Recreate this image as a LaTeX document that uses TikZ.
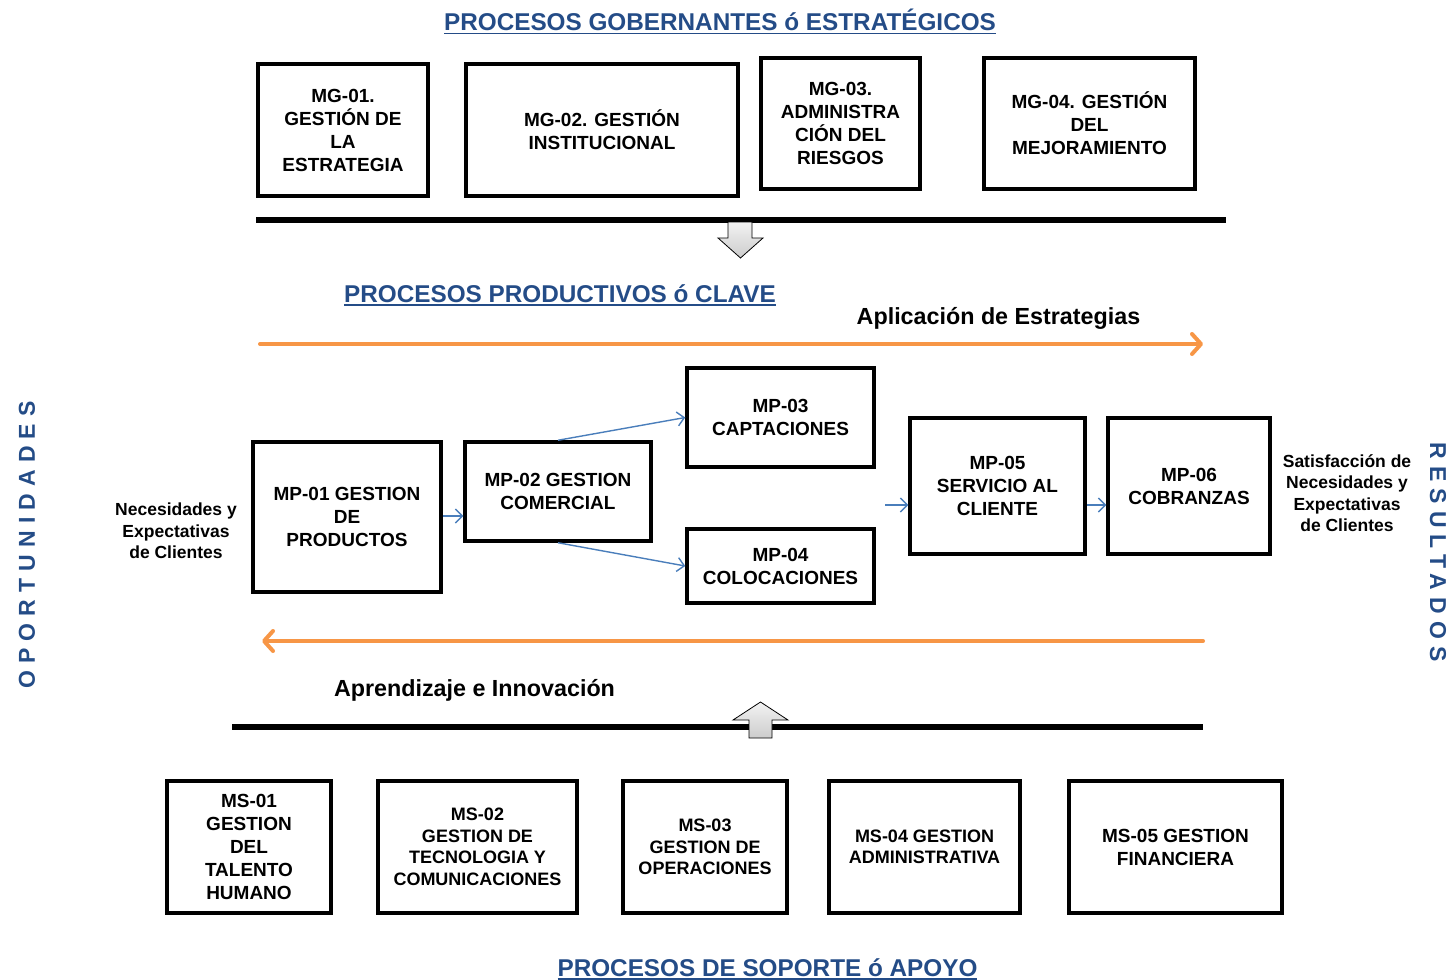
\documentclass[tikz,border=0pt]{standalone}
\usepackage{fontspec}
\setmainfont{Liberation Sans}
\usetikzlibrary{arrows.meta}
\definecolor{titleblue}{RGB}{36,76,135}
\definecolor{flowblue}{RGB}{74,126,187}
\definecolor{floworange}{RGB}{247,150,70}
% underlined section heading with a heavier rule than \underline
\newcommand{\titleul}[1]{\sbox0{#1}\rlap{\usebox0}\rule[-3.5pt]{\wd0}{1.8pt}}

\begin{document}
\begin{tikzpicture}[x=1pt,y=-1pt,
  procbox/.style={draw=black, line width=3.5pt, fill=white, align=center, inner sep=2pt,
    font=\fontsize{19}{23}\selectfont\bfseries},
  smallbox/.style={procbox, font=\fontsize{18}{21.5}\selectfont\bfseries},
  sectitle/.style={text=titleblue, font=\fontsize{24.3}{28}\selectfont\bfseries, anchor=base},
  flowlabel/.style={font=\fontsize{23.3}{26}\selectfont\bfseries, anchor=base},
  sidenote/.style={align=center, font=\fontsize{17.5}{21.5}\selectfont\bfseries},
  sidetitle/.style={text=titleblue, font=\fontsize{23}{26}\selectfont\bfseries\addfontfeature{LetterSpace=31}},
  sepline/.style={line width=6pt},
  conn/.style={draw=flowblue, line width=1.4pt, -{Straight Barb[length=7pt,width=14pt]}},
  flowarrow/.style={draw=floworange, line width=4pt, line cap=round,
    -{Straight Barb[length=9pt,width=20pt,line cap=round,line join=round]}},
  blockarrow/.style={draw=black, line width=0.8pt, top color=gray!10, bottom color=gray!40},
]
\useasboundingbox (0,0) rectangle (1455,979);

% ---- governing processes ----
\node[sectitle] (tgob) at (720,31) {\titleul{PROCESOS GOBERNANTES ó ESTRATÉGICOS}};
\node[procbox, minimum width=170pt, minimum height=132pt] (mg01) at (343,130)
  {MG-01.\\GESTIÓN DE\\LA\\ESTRATEGIA};
\node[procbox, minimum width=272pt, minimum height=132pt] (mg02) at (602,130)
  {MG-02. GESTIÓN\\INSTITUCIONAL};
\node[procbox, minimum width=159pt, minimum height=131pt] (mg03) at (840.5,123.5)
  {MG-03.\\ADMINISTRA\\CIÓN DEL\\RIESGOS};
\node[procbox, minimum width=211pt, minimum height=131pt] (mg04) at (1089.5,123.5)
  {MG-04. GESTIÓN\\DEL\\MEJORAMIENTO};

\coordinate (sepAl) at (256,220);
\coordinate (sepAr) at (1226,220);
\draw[sepline] (sepAl) -- (sepAr);
\draw[blockarrow] (728,222) -- (752,222) -- (752,238) -- (763,238) -- (740.5,258)
  -- (718,238) -- (728,238) -- cycle;

% ---- key processes ----
\node[sectitle] (tprod) at (560,302) {\titleul{PROCESOS PRODUCTIVOS ó CLAVE}};
\node[flowlabel] (lapl) at (998.5,324) {Aplicación de Estrategias};
\coordinate (oAl) at (260,344);
\coordinate (oAr) at (1203,344);
\draw[flowarrow] (oAl) -- (oAr);

\node[procbox, minimum width=188pt, minimum height=150pt] (mp01) at (347,517)
  {MP-01 GESTION\\DE\\PRODUCTOS};
\node[procbox, minimum width=186pt, minimum height=99pt] (mp02) at (558,491.5)
  {MP-02 GESTION\\COMERCIAL};
\node[procbox, minimum width=187pt, minimum height=99pt] (mp03) at (780.5,417.5)
  {MP-03\\CAPTACIONES};
\node[procbox, minimum width=187pt, minimum height=74pt] (mp04) at (780.5,566)
  {MP-04\\COLOCACIONES};
\node[procbox, minimum width=175pt, minimum height=136pt] (mp05) at (997.5,486)
  {MP-05\\SERVICIO AL\\CLIENTE};
\node[procbox, minimum width=162pt, minimum height=136pt] (mp06) at (1189,486)
  {MP-06\\COBRANZAS};

\draw[conn] (mp01.east |- 0,516) -- (mp02.west |- 0,516);
\draw[conn] (mp02.north) -- (mp03.west);
\draw[conn] (mp02.south) -- (mp04.west);
\coordinate (in05) at (885,505);
\draw[conn] (in05) -- (in05 -| mp05.west);
\draw[conn] (mp05.east |- in05) -- (mp06.west |- in05);

\node[sidenote] (needs) at (176,531) {Necesidades y\\Expectativas\\de Clientes};
\node[sidenote] (satis) at (1347,493) {Satisfacción de\\Necesidades y\\Expectativas\\de Clientes};

\node[sidetitle, rotate=90] (opor) at (27,545) {OPORTUNIDADES};
\node[sidetitle, rotate=-90] (resu) at (1438,552) {RESULTADOS};

\coordinate (oBr) at (1203,641);
\coordinate (oBl) at (262,641);
\draw[flowarrow] (oBr) -- (oBl);
\node[flowlabel] (lapr) at (474.5,696) {Aprendizaje e Innovación};

\coordinate (sepBl) at (232,727);
\coordinate (sepBr) at (1203,727);
\draw[sepline] (sepBl) -- (sepBr);
\draw[blockarrow] (749,738) -- (772,738) -- (772,720) -- (788,720) -- (760.5,702)
  -- (733,720) -- (749,720) -- cycle;

% ---- support processes ----
\node[procbox, minimum width=164pt, minimum height=132pt] (ms01) at (249,847)
  {MS-01\\GESTION\\DEL\\TALENTO\\HUMANO};
\node[smallbox, minimum width=199pt, minimum height=132pt] (ms02) at (477.5,847)
  {MS-02\\GESTION DE\\TECNOLOGIA Y\\COMUNICACIONES};
\node[smallbox, minimum width=164pt, minimum height=132pt] (ms03) at (705,847)
  {MS-03\\GESTION DE\\OPERACIONES};
\node[smallbox, minimum width=191pt, minimum height=132pt] (ms04) at (924.5,847)
  {MS-04 GESTION\\ADMINISTRATIVA};
\node[procbox, minimum width=213pt, minimum height=132pt] (ms05) at (1175.5,847)
  {MS-05 GESTION\\FINANCIERA};

\node[sectitle] (tsop) at (767.5,976) {\titleul{PROCESOS DE SOPORTE ó APOYO}};
\end{tikzpicture}
\end{document}
